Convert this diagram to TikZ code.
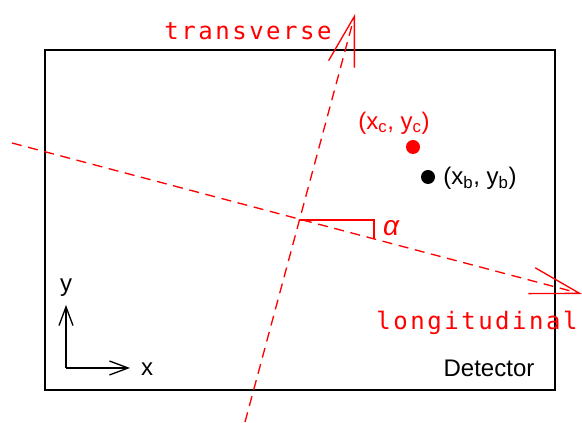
\documentclass[tikz,border=0pt]{standalone}
\usepackage{fontspec}
\setmainfont{Liberation Sans}
\newfontfamily\spacedfont[LetterSpace=10.5]{DejaVu Sans Mono}
\usetikzlibrary{arrows.meta}
\tikzset{
  refline/.style={red, line width=1pt, dash pattern=on 7.5pt off 5pt},
  bigtip/.style={-{Straight Barb[length=37pt,width=20pt,line width=1pt]}},
  axisarrow/.style={black, line width=1pt, -{Straight Barb[length=14pt,width=10.5pt,line width=1pt]}},
  lbl/.style={inner sep=0pt, font=\fontsize{18pt}{20pt}\selectfont},
  spaced/.style={inner sep=0pt, anchor=base, red, font=\fontsize{18pt}{20pt}\spacedfont},
  dot/.style={circle, inner sep=0pt, minimum size=10.5pt}
}
\begin{document}
\begin{tikzpicture}[x=0.75pt,y=-0.75pt]
\useasboundingbox (0,0) rectangle (582,423);
% detector
\draw[line width=1.1pt] (45,50) rectangle (555,390);
% reference lines
\coordinate (L1) at (12,143);
\coordinate (L2) at (582,294);
\coordinate (T1) at (245,422);
\coordinate (T2) at (355,14);
\coordinate (O) at (299,220);
\coordinate (A1) at (374,220);
\coordinate (A2) at (374,239);
\draw[refline, bigtip] (L1) -- (L2);
\draw[refline, bigtip] (T1) -- (T2);
% angle marker
\draw[red, line width=1pt] (O) -- (A1) -- (A2);
\node[inner sep=0pt, red, font=\fontsize{21pt}{22pt}\selectfont\itshape] (alpha) at (391,228) {α};
% labels of lines
\node[spaced] (trans) at (248,40) {transverse};
\node[spaced] (long) at (477,330) {longitudinal};
% points
\node[dot, fill=red] (c) at (413,147) {};
\node[dot, fill=black] (b) at (428,177) {};
\node[lbl, red] (clbl) at (394,123) {(x\textsubscript{c}, y\textsubscript{c})};
\node[lbl, anchor=west] (blbl) at (443,178) {(x\textsubscript{b}, y\textsubscript{b})};
% axes
\coordinate (orig) at (66,368);
\coordinate (yend) at (66,305);
\coordinate (xend) at (130,368);
\draw[axisarrow] (orig) -- (yend);
\draw[axisarrow] (orig) -- (xend);
\node[lbl] (ylbl) at (66,288) {y};
\node[lbl] (xlbl) at (147,369) {x};
\node[lbl] (det) at (489,368) {Detector};
\end{tikzpicture}
\end{document}
